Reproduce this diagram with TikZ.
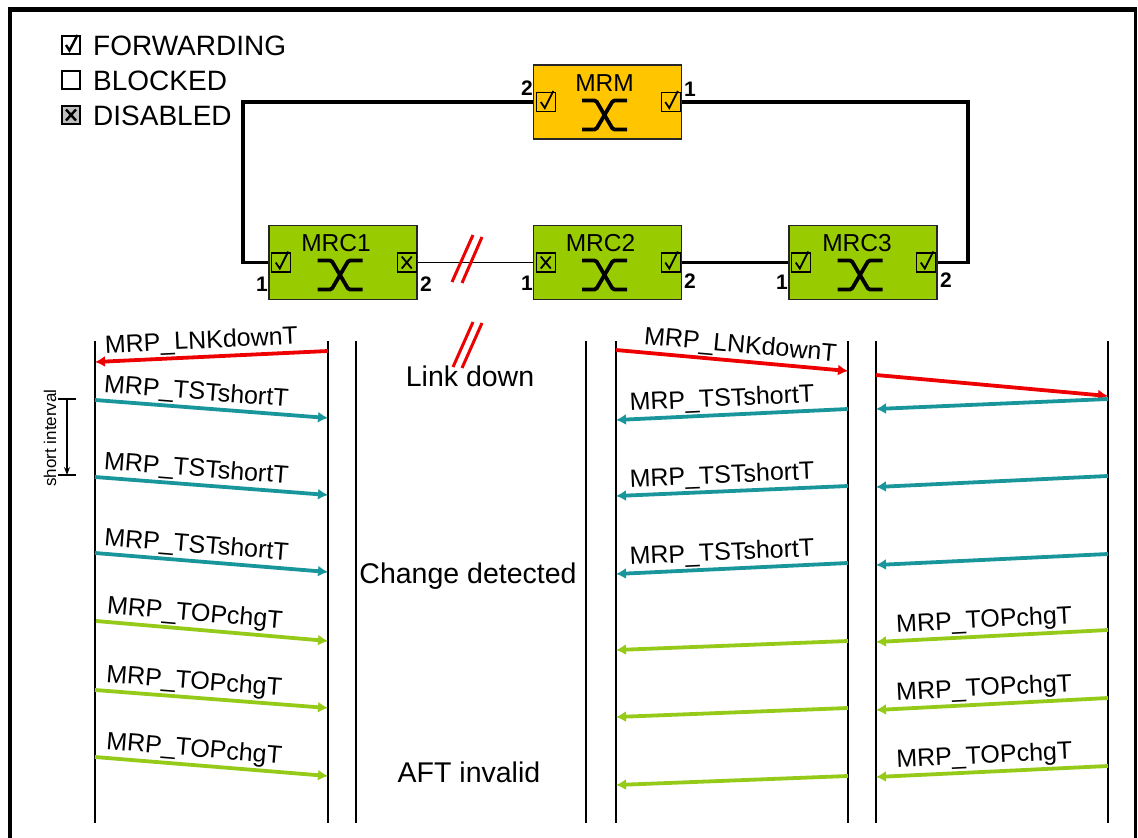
\documentclass[tikz,border=0pt]{standalone}
\usepackage{fontspec}
\setmainfont{Liberation Sans}
\usetikzlibrary{arrows.meta,calc}

\definecolor{mrmfill}{RGB}{255,198,0}
\definecolor{mrcfill}{RGB}{153,204,0}
\definecolor{tstcol}{RGB}{25,150,155}
\definecolor{topcol}{RGB}{150,202,25}
\definecolor{lnkcol}{RGB}{238,0,0}

\tikzset{
  dev/.style={draw=black!85, line width=1.5pt, minimum width=148pt,
    minimum height=74pt, inner sep=0pt},
  devname/.style={font=\fontsize{24.5}{24.5}\selectfont, anchor=base, inner sep=0pt},
  portnum/.style={font=\fontsize{21}{21}\selectfont\bfseries, inner sep=0pt},
  ring/.style={line width=3.5pt, black},
  thinlink/.style={line width=1.8pt, black},
  lifeline/.style={line width=1.8pt, black},
  msg/.style={line width=3.8pt, -{Latex[length=10pt,width=11pt]}},
  msglbl/.style={font=\fontsize{25}{25}\selectfont, sloped, above, inner sep=1.5pt, black},
  legtext/.style={font=\fontsize{28}{28}\selectfont, anchor=base west, inner sep=0pt},
  phase/.style={font=\fontsize{28.5}{28.5}\selectfont, anchor=base, inner sep=0pt},
  cut/.style={line width=3pt, lnkcol},
  pics/swx/.style={code={
    \draw[line width=3.8pt, rounded corners=1.5pt]
      (-22.5,-14.5) -- (-8.5,-14.5) -- (8.5,14.5) -- (22.5,14.5);
    \draw[line width=3.8pt, rounded corners=1.5pt]
      (22.5,-14.5) -- (8.5,-14.5) -- (-8.5,14.5) -- (-22.5,14.5);
  }},
  pics/chk/.style={code={
    \draw[line width=1.4pt] (-9.5,-9.5) rectangle (9.5,9.5);
    \draw[line width=1.8pt] (-5.5,0) -- (-1.5,6) -- (7,-11);
  }},
  pics/xbx/.style={code={
    \draw[line width=1.4pt] (-9.5,-9.5) rectangle (9.5,9.5);
    \draw[line width=1.8pt] (-5,-6) -- (5,6) (-5,6) -- (5,-6);
  }},
  pics/legchk/.style={code={
    \draw[line width=2.6pt] (-9,-9) rectangle (9,9);
    \draw[line width=2.4pt] (-5,0) -- (-1.5,5.5) -- (6.5,-10);
  }},
  pics/legbox/.style={code={
    \draw[line width=2.6pt] (-9,-9) rectangle (9,9);
  }},
  pics/legdis/.style={code={
    \draw[line width=2.6pt, fill=black!25] (-9,-9) rectangle (9,9);
    \draw[line width=2.4pt] (-5,-5.5) -- (5,5.5) (-5,5.5) -- (5,-5.5);
  }},
}

\begin{document}
\begin{tikzpicture}[x=1pt, y=-1pt]
\useasboundingbox[fill=white] (0,0) rectangle (1138,838);

% frame
\draw[line width=5pt] (8,9.5) -- (1137,9.5);
\draw[line width=4pt] (10,7) -- (10,838);
\draw[line width=2.2pt] (1135.5,7) -- (1135.5,838);

% legend
\pic at (71,45) {legchk};
\pic at (71,80) {legbox};
\pic at (71,115) {legdis};
\node[legtext] (lfwd) at (93,55) {FORWARDING};
\node[legtext] (lblk) at (93,90) {BLOCKED};
\node[legtext] (ldis) at (93,125) {DISABLED};

% ring devices
\node[dev, fill=mrmfill] (mrm) at (607.5,102) {};
\node[dev, fill=mrcfill] (mrc1) at (343,262.5) {};
\node[dev, fill=mrcfill] (mrc2) at (607.5,262.5) {};
\node[dev, fill=mrcfill] (mrc3) at (863,262.5) {};

% ring links
\coordinate (ringL) at (243,102);
\coordinate (ringR) at (968,102);
\draw[ring] (mrm.west) -- (ringL) |- (mrc1.west);
\draw[ring] (mrm.east) -- (ringR) |- (mrc3.east);
\draw[ring] (mrc2.east) -- (mrc3.west);
\draw[thinlink] (mrc1.east) -- (mrc2.west);

% device contents
\node[devname] (mrmname) at ($(mrm.north)+(-3,27)$) {MRM};
\node[devname] (mrc1name) at ($(mrc1.north)+(-7,27)$) {MRC1};
\node[devname] (mrc2name) at ($(mrc2.north)+(-7,27)$) {MRC2};
\node[devname] (mrc3name) at ($(mrc3.north)+(-6,27)$) {MRC3};
\pic at ($(mrm.center)+(-3,13)$) {swx};
\pic at ($(mrc1.center)+(-3,12.5)$) {swx};
\pic at ($(mrc2.center)+(-3,12.5)$) {swx};
\pic at ($(mrc3.center)+(-3,12.5)$) {swx};

% ports
\pic at ($(mrm.west)+(13.5,0)$) {chk};
\pic at ($(mrm.east)+(-11.5,0)$) {chk};
\pic at ($(mrc1.west)+(13,0)$) {chk};
\pic at ($(mrc1.east)+(-11,0)$) {xbx};
\pic at ($(mrc2.west)+(13,0)$) {xbx};
\pic at ($(mrc2.east)+(-11.5,0)$) {chk};
\pic at ($(mrc3.west)+(13,0)$) {chk};
\pic at ($(mrc3.east)+(-11.5,0)$) {chk};

% port numbers
\node[portnum] (mrmp2) at (527,88) {2};
\node[portnum] (mrmp1) at (690,89) {1};
\node[portnum] (mrc1p1) at (262,284) {1};
\node[portnum] (mrc1p2) at (426,284) {2};
\node[portnum] (mrc2p1) at (527,283) {1};
\node[portnum] (mrc2p2) at (690,281) {2};
\node[portnum] (mrc3p1) at (782,282) {1};
\node[portnum] (mrc3p2) at (946,280) {2};

% broken link marks
\draw[cut] (452,282) -- (473,235);
\draw[cut] (462,283) -- (482,237);

% lifelines
\foreach \n/\x in {1/95, 2/328, 3/356, 4/586, 5/616, 6/848, 7/876, 8/1108} {
  \coordinate (L\n t) at (\x,341);
  \coordinate (L\n b) at (\x,823);
  \draw[lifeline] (L\n t) -- (L\n b);
}

% short interval
\coordinate (siT) at (67,399);
\coordinate (siB) at (67,475);
\draw[line width=1.2pt] (58,399) -- (76,399) (58,475) -- (76,475);
\draw[line width=1.2pt, -{Stealth[length=8pt,width=6pt]}] (siT) -- (siB);
\node[font=\fontsize{17}{17}\selectfont, rotate=90, inner sep=0pt] (silbl) at (50,438) {short interval};

% message endpoints
\coordinate (a1) at (328,351);  \coordinate (a1e) at (95,362);
\coordinate (a2) at (95,400);   \coordinate (a2e) at (328,418);
\coordinate (a3) at (95,477);   \coordinate (a3e) at (328,495);
\coordinate (a4) at (95,553);   \coordinate (a4e) at (328,572);
\coordinate (a5) at (96,621);   \coordinate (a5e) at (328,641);
\coordinate (a6) at (95,690);   \coordinate (a6e) at (328,708);
\coordinate (a7) at (95,757);   \coordinate (a7e) at (328,776);

\coordinate (b1) at (616,350);  \coordinate (b1e) at (848,371);
\coordinate (b2) at (848,409);  \coordinate (b2e) at (616,420);
\coordinate (b3) at (848,486);  \coordinate (b3e) at (616,496);
\coordinate (b4) at (848,563);  \coordinate (b4e) at (616,574);
\coordinate (b5) at (848,641);  \coordinate (b5e) at (616,650);
\coordinate (b6) at (848,708);  \coordinate (b6e) at (616,717);
\coordinate (b7) at (848,776);  \coordinate (b7e) at (616,785);

\coordinate (c1) at (876,375);  \coordinate (c1e) at (1108,396);
\coordinate (c2) at (1108,399); \coordinate (c2e) at (876,409);
\coordinate (c3) at (1108,476); \coordinate (c3e) at (876,487);
\coordinate (c4) at (1108,554); \coordinate (c4e) at (876,565);
\coordinate (c5) at (1108,630); \coordinate (c5e) at (876,642);
\coordinate (c6) at (1108,698); \coordinate (c6e) at (876,710);
\coordinate (c7) at (1108,766); \coordinate (c7e) at (876,777);

% messages, first column
\draw[msg, lnkcol] (a1) -- node[msglbl, pos=0.54] (ma1) {MRP\_LNKdownT} (a1e);
\draw[msg, tstcol] (a2) -- node[msglbl, pos=0.43] (ma2) {MRP\_TSTshortT} (a2e);
\draw[msg, tstcol] (a3) -- node[msglbl, pos=0.43] (ma3) {MRP\_TSTshortT} (a3e);
\draw[msg, tstcol] (a4) -- node[msglbl, pos=0.43] (ma4) {MRP\_TSTshortT} (a4e);
\draw[msg, topcol] (a5) -- node[msglbl, pos=0.42] (ma5) {MRP\_TOPchgT} (a5e);
\draw[msg, topcol] (a6) -- node[msglbl, pos=0.42] (ma6) {MRP\_TOPchgT} (a6e);
\draw[msg, topcol] (a7) -- node[msglbl, pos=0.42] (ma7) {MRP\_TOPchgT} (a7e);

% messages, third column
\draw[msg, lnkcol] (b1) -- node[msglbl, pos=0.53] (mb1) {MRP\_LNKdownT} (b1e);
\draw[msg, tstcol] (b2) -- node[msglbl, pos=0.54] (mb2) {MRP\_TSTshortT} (b2e);
\draw[msg, tstcol] (b3) -- node[msglbl, pos=0.54] (mb3) {MRP\_TSTshortT} (b3e);
\draw[msg, tstcol] (b4) -- node[msglbl, pos=0.54] (mb4) {MRP\_TSTshortT} (b4e);
\draw[msg, topcol] (b5) -- (b5e);
\draw[msg, topcol] (b6) -- (b6e);
\draw[msg, topcol] (b7) -- (b7e);

% messages, fourth column
\draw[msg, lnkcol] (c1) -- (c1e);
\draw[msg, tstcol] (c2) -- (c2e);
\draw[msg, tstcol] (c3) -- (c3e);
\draw[msg, tstcol] (c4) -- (c4e);
\draw[msg, topcol] (c5) -- node[msglbl, pos=0.53] (mc5) {MRP\_TOPchgT} (c5e);
\draw[msg, topcol] (c6) -- node[msglbl, pos=0.53] (mc6) {MRP\_TOPchgT} (c6e);
\draw[msg, topcol] (c7) -- node[msglbl, pos=0.53] (mc7) {MRP\_TOPchgT} (c7e);

% state annotations
\node[phase] (linkdown) at (470,386) {Link down};
\node[phase] (chgdet) at (468,583) {Change detected};
\node[phase] (aftinv) at (469,782) {AFT invalid};
\draw[cut] (453,367) -- (473,322);
\draw[cut] (462,368) -- (482,323);
\end{tikzpicture}
\end{document}
